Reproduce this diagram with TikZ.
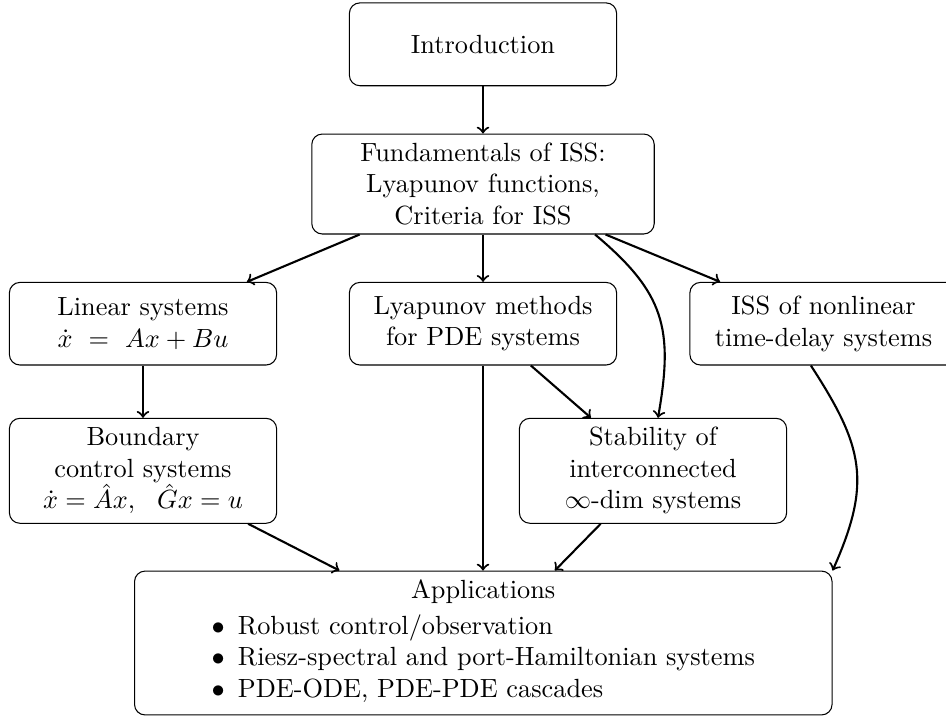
\documentclass[tikz,border=0pt]{standalone}
\begin{document}
\begin{tikzpicture}[x=0.3802pt,y=0.3802pt,
  box/.style={draw, rounded corners=4pt, align=center, inner sep=2pt, minimum width=101.6pt},
  arr/.style={->, thick}]
\useasboundingbox (0,0) rectangle (946,-717);
\node[box, minimum height=31.5pt] (intro) at (483,-44.3) {Introduction};
\node[box, minimum width=130.2pt, minimum height=38pt] (fund) at (483,-184) {Fundamentals of ISS:\\Lyapunov functions,\\Criteria for ISS};
\node[box, minimum height=31.4pt] (lin) at (143,-323.7) {Linear systems\\$\dot{x} ~=~ Ax + Bu$};
\node[box, minimum height=31.4pt] (lyap) at (483,-323.7) {Lyapunov methods\\for PDE systems};
\node[box, minimum height=31.4pt] (iss) at (823.5,-323.7) {ISS of nonlinear\\time-delay systems};
\node[box, minimum height=39.9pt] (bcs) at (143,-470.8) {Boundary\\control systems\\$\dot{x} = \hat{A}x,\ \ \hat{G}x = u$};
\node[box, minimum height=39.9pt] (stab) at (653,-470.8) {Stability of\\interconnected\\$\infty$-dim systems};
\node[box, minimum width=265.2pt, minimum height=54.7pt] (app) at (483.3,-643) {Applications\\[2.4pt]\begin{tabular}{@{}l@{}}$\bullet$\hspace{0.5em}Robust control/observation\\$\bullet$\hspace{0.5em}Riesz-spectral and port-Hamiltonian systems\\$\bullet$\hspace{0.5em}PDE-ODE, PDE-PDE cascades\end{tabular}};
\draw[arr] (intro) -- (fund);
\draw[arr] ([xshift=18.4pt]fund.south west) -- ([xshift=39.5pt]lin.north);
\draw[arr] (fund) -- (lyap);
\draw[arr] ([xshift=42.6pt]fund.south) to[out=-40,in=80,looseness=1.2] ([xshift=1.9pt]stab.north);
\draw[arr] ([xshift=-18.7pt]fund.south east) -- ([xshift=-39.3pt]iss.north);
\draw[arr] (lin) -- (bcs);
\draw[arr] ([xshift=18.2pt]lyap.south) -- ([xshift=-23.6pt]stab.north);
\draw[arr] (lyap.south) -- (lyap.south |- app.north);
\draw[arr] ([xshift=40pt]bcs.south) -- ([xshift=-54.7pt]app.north);
\draw[arr] ([xshift=-19.9pt]stab.south) -- ([xshift=27.2pt]app.north);
\draw[arr] ([xshift=-4.8pt]iss.south) to[out=-57,in=66,looseness=1.2] (app.north east);
\end{tikzpicture}
\end{document}
